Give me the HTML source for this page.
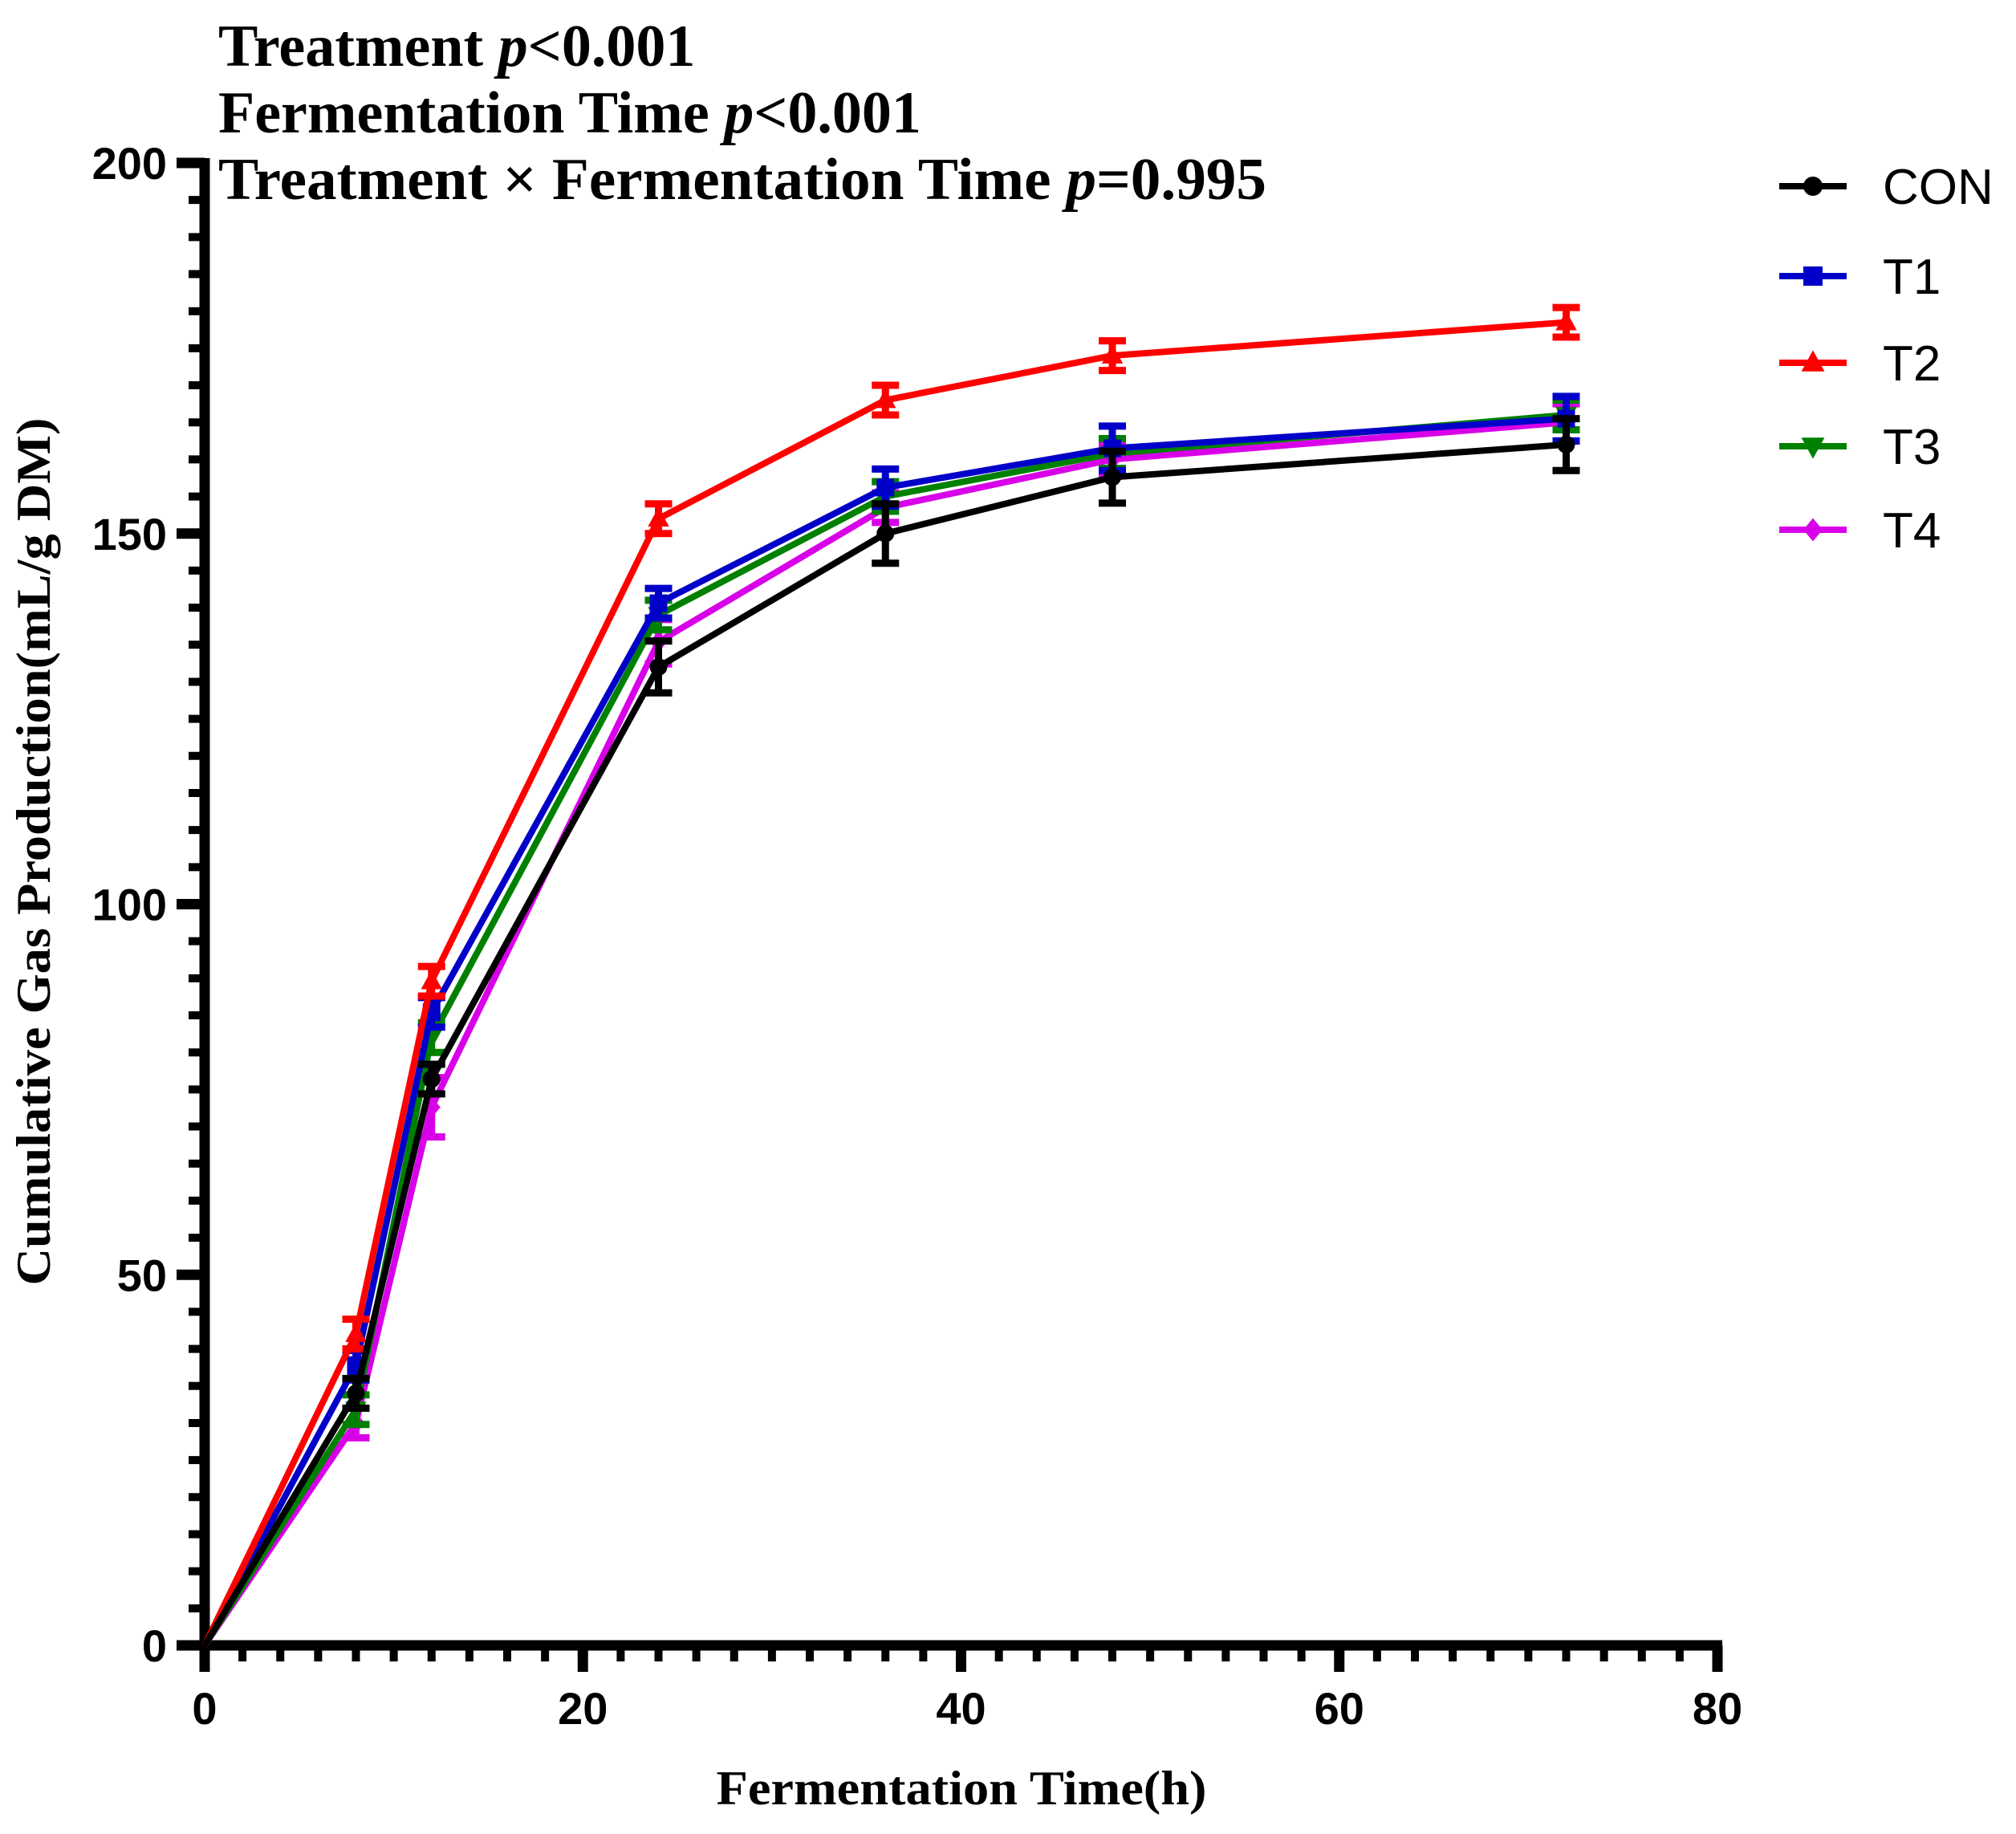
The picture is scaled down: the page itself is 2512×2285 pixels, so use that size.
<!DOCTYPE html>
<html><head><meta charset="utf-8"><style>
html,body{margin:0;padding:0;background:#fff;}
svg{display:block;}
</style></head><body>
<svg id="chart" xmlns="http://www.w3.org/2000/svg" width="2512" height="2285" viewBox="0 0 2512 2285">
<rect width="2512" height="2285" fill="#fff"/>
<g font-family="Liberation Serif, serif" font-weight="bold" font-size="74" fill="#000">
<text x="272" y="82">Treatment <tspan font-style="italic">p</tspan>&lt;0.001</text>
<text x="272" y="165">Fermentation Time <tspan font-style="italic">p</tspan>&lt;0.001</text>
<text x="272" y="248" textLength="1306" lengthAdjust="spacingAndGlyphs">Treatment × Fermentation Time <tspan font-style="italic">p</tspan>=0.995</text>
</g>
<g id="axes"></g>
<g id="series"></g>
<g id="legend"></g>
<text x="1198" y="2248" text-anchor="middle" font-family="Liberation Serif, serif" font-weight="bold" font-size="60" textLength="611" lengthAdjust="spacingAndGlyphs">Fermentation Time(h)</text>
<text transform="translate(62,1061) rotate(-90)" text-anchor="middle" font-family="Liberation Serif, serif" font-weight="bold" font-size="60" textLength="1081" lengthAdjust="spacingAndGlyphs">Cumulative Gas Production(mL/g DM)</text>
</svg>
<script>
const times = [0, 8, 12, 24, 36, 48, 72];
const seriesNames = ["CON", "T1", "T2", "T3", "T4"];
const conValues = [0, 34, 76.4, 132, 150, 157.6, 162];
const t1Values = [0, 37.8, 85.4, 140.6, 156.2, 161.5, 165.5];
const t2Values = [0, 42, 89.6, 152, 168, 174, 178.5];
const t3Values = [0, 31.8, 82, 139, 155, 160.8, 166];
const t4Values = [0, 30, 72.6, 135.4, 153.5, 160, 165];
const conErr = [0, 2, 2, 3.5, 4, 3.5, 3.5];
const t1Err = [0, 2, 2, 2, 2.5, 3, 3];
const t2Err = [0, 2, 2, 2, 2, 2, 2];
const t3Err = [0, 2, 2, 2, 2, 2, 2];
const t4Err = [0, 2, 4, 3, 2, 2, 2.5];
const xTicks = [0, 20, 40, 60, 80];
const yTicks = [0, 50, 100, 150, 200];

const NS = "http://www.w3.org/2000/svg";
const X0 = 255, X1 = 2140, Y0 = 2050, Y1 = 203;
const xs = v => X0 + (v - 0) / 80 * (X1 - X0);
const ys = v => Y0 - (v - 0) / 200 * (Y0 - Y1);
function mk(tag, attrs, parent) {
  const e = document.createElementNS(NS, tag);
  for (const k in attrs) e.setAttribute(k, attrs[k]);
  parent.appendChild(e);
  return e;
}
const axes = document.getElementById('axes');
let el = mk('line', {x1: X0, y1: Y1 - 6, x2: X0, y2: Y0 + 6, stroke: '#000', 'stroke-width': 13}, axes);


el = mk('line', {x1: X0 - 6, y1: Y0, x2: X1 + 6, y2: Y0, stroke: '#000', 'stroke-width': 13}, axes);


for (let v = 0; v <= 80; v += 2) {
  const major = v % 20 === 0;
  el = mk('line', {x1: xs(v), y1: Y0, x2: xs(v), y2: Y0 + (major ? 33 : 20), stroke: '#000', 'stroke-width': major ? 13 : 10}, axes);
  
  
}
for (let v = 0; v <= 200; v += 5) {
  const major = v % 50 === 0;
  el = mk('line', {x1: X0, y1: ys(v), x2: X0 - (major ? 35 : 20), y2: ys(v), stroke: '#000', 'stroke-width': major ? 13 : 10}, axes);
  
  
}
xTicks.forEach(v => {
  const t = mk('text', {x: xs(v), y: 2148, 'text-anchor': 'middle', 'font-family': 'Liberation Sans, sans-serif', 'font-weight': 'bold', 'font-size': 56, fill: '#000'}, axes);
  t.textContent = v;
  
  
});
yTicks.forEach(v => {
  const t = mk('text', {x: 208, y: ys(v) + 20, 'text-anchor': 'end', 'font-family': 'Liberation Sans, sans-serif', 'font-weight': 'bold', 'font-size': 56, fill: '#000'}, axes);
  t.textContent = v;
  
  
});

const seriesData = {
  CON: {vals: conValues, err: conErr, color: '#000000', marker: 'circle'},
  T1: {vals: t1Values, err: t1Err, color: '#0000c8', marker: 'square'},
  T2: {vals: t2Values, err: t2Err, color: '#ff0000', marker: 'up'},
  T3: {vals: t3Values, err: t3Err, color: '#008000', marker: 'down'},
  T4: {vals: t4Values, err: t4Err, color: '#d800e8', marker: 'diamond'}
};
function marker(g, type, cx, cy, color, s) {
  let m;
  if (type === 'circle') m = mk('circle', {cx: cx, cy: cy, r: s, fill: color}, g);
  else if (type === 'square') m = mk('rect', {x: cx - s, y: cy - s, width: 2 * s, height: 2 * s, fill: color}, g);
  else if (type === 'up') m = mk('polygon', {points: `${cx},${cy - s * 1.3} ${cx - s * 1.2},${cy + s * 0.9} ${cx + s * 1.2},${cy + s * 0.9}`, fill: color}, g);
  else if (type === 'down') m = mk('polygon', {points: `${cx},${cy + s * 1.3} ${cx - s * 1.2},${cy - s * 0.9} ${cx + s * 1.2},${cy - s * 0.9}`, fill: color}, g);
  else m = mk('polygon', {points: `${cx},${cy - s * 1.2} ${cx + s},${cy} ${cx},${cy + s * 1.2} ${cx - s},${cy}`, fill: color}, g);
  return m;
}
const sg = document.getElementById('series');
['T4', 'T3', 'T1', 'T2', 'CON'].forEach(name => {
  const d = seriesData[name];
  const g = mk('g', {}, sg);
  
  
  const pts = times.map((t, i) => xs(t) + ',' + ys(d.vals[i])).join(' ');
  const pl = mk('polyline', {points: pts, fill: 'none', stroke: d.color, 'stroke-width': 8, 'stroke-linejoin': 'round'}, g);
  
  
  times.forEach((t, i) => {
    if (t === 0) return;
    const cx = xs(t), top = ys(d.vals[i] + d.err[i]), bot = ys(d.vals[i] - d.err[i]);
    const eb = mk('path', {d: `M${cx},${top}V${bot}M${cx - 17},${top}H${cx + 17}M${cx - 17},${bot}H${cx + 17}`, stroke: d.color, 'stroke-width': 9, fill: 'none'}, g);
    
    
    const m = marker(g, d.marker, cx, ys(d.vals[i]), d.color, 11);
    
    
  });
});
const lg = document.getElementById('legend');
const legendY = [232, 344, 452, 556, 660];
seriesNames.forEach((name, i) => {
  const d = seriesData[name];
  const g = mk('g', {}, lg);
  
  
  const y = legendY[i];
  mk('line', {x1: 2217, y1: y, x2: 2301, y2: y, stroke: d.color, 'stroke-width': 8}, g);
  marker(g, d.marker, 2259, y, d.color, 12);
  const t = mk('text', {x: 2346, y: y + 22, 'font-family': 'Liberation Sans, sans-serif', 'font-size': 62, fill: '#000'}, g);
  t.textContent = name;
  
  
});
</script>
</body></html>
